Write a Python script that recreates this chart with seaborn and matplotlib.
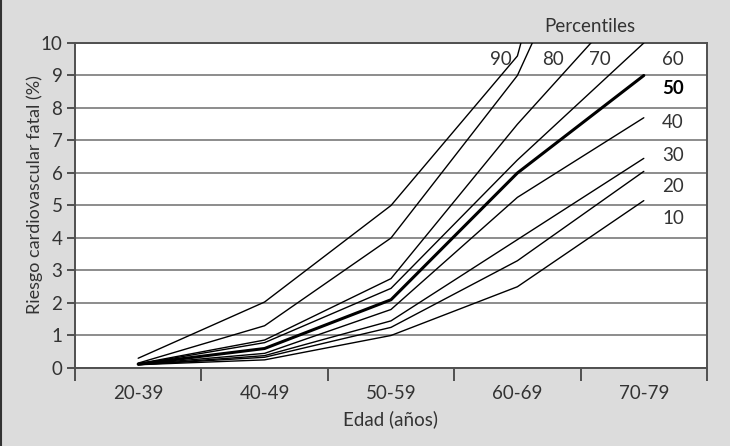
import pandas as pd
import seaborn as sns
import matplotlib.pyplot as plt
from matplotlib.lines import Line2D

# datos
edades = ["20-39", "40-49", "50-59", "60-69", "70-79"]
percentiles = [90, 80, 70, 60, 50, 40, 30, 20, 10]
p90 = [0.30, 2.03, 5.0, 9.6, 24.0]
p80 = [0.15, 1.30, 4.0, 9.0, 17.5]
p70 = [0.13, 0.86, 2.75, 7.5, 11.8]
p60 = [0.12, 0.78, 2.45, 6.4, 10.0]
p50 = [0.12, 0.60, 2.10, 6.0, 9.0]
p40 = [0.11, 0.45, 1.80, 5.25, 7.7]
p30 = [0.10, 0.38, 1.45, 3.95, 6.45]
p20 = [0.10, 0.33, 1.25, 3.30, 6.05]
p10 = [0.10, 0.25, 1.00, 2.50, 5.15]
series = [p90, p80, p70, p60, p50, p40, p30, p20, p10]

filas = []
for p, vals in zip(percentiles, series):
    for i, v in enumerate(vals):
        filas.append({"pos": i, "edad": edades[i], "percentil": p, "riesgo": v})
df = pd.DataFrame(filas)

sns.set_style("white")
plt.rcParams['font.family'] = ['Lato', 'DejaVu Sans']
plt.rcParams['text.color'] = '#333333'
plt.rcParams['axes.labelcolor'] = '#333333'

fondo = '#dcdcdc'
gris_spine = '#505050'
fs = 13.5

fig = plt.figure(figsize=(7.3, 4.46), dpi=100, facecolor=fondo)
ax = fig.add_axes([0.1027, 0.1749, 0.8658, 0.7287])
ax.set_facecolor('white')

grosor = {p: 1.0 for p in percentiles}
grosor[50] = 2.2
sns.lineplot(data=df, x="pos", y="riesgo", hue="percentil", size="percentil",
             palette={p: 'black' for p in percentiles}, sizes=grosor,
             legend=False, sort=False, ax=ax, zorder=3)

ax.set_xlim(-0.5, len(edades) - 0.5)
ax.set_ylim(0, 10)

# rejilla horizontal
ax.set_yticks(range(0, 11))
ax.yaxis.grid(True, color='#8c8c8c', linewidth=1.4)
ax.set_axisbelow(True)
ax.tick_params(axis='y', direction='out', length=6, width=1.4, color=gris_spine,
               labelsize=fs, labelcolor='#333333', pad=3, left=True)

# marcas en los límites de cada grupo, etiquetas en el centro
ax.set_xticks([i - 0.5 for i in range(len(edades) + 1)])
ax.set_xticklabels([])
ax.set_xticks(range(len(edades)), minor=True)
ax.set_xticklabels(edades, minor=True)
ax.tick_params(axis='x', which='major', direction='out', length=9, width=1.4,
               color=gris_spine, bottom=True)
ax.tick_params(axis='x', which='minor', length=0, pad=12, labelsize=fs,
               labelcolor='#333333')

for s in ax.spines.values():
    s.set_color(gris_spine)
    s.set_linewidth(1.4)

ax.set_xlabel("Edad (años)", fontsize=fs, labelpad=6)
ax.set_ylabel("Riesgo cardiovascular fatal (%)", fontsize=13)
ax.yaxis.set_label_coords(-0.05, 0.535)

# etiquetas de percentiles
ax.text(3.57, 10.5, "Percentiles", fontsize=fs, ha='center', va='center',
        clip_on=False)
for p, (x, y) in {90: (2.87, 9.5), 80: (3.28, 9.5), 70: (3.65, 9.5),
                  60: (4.23, 9.5), 50: (4.23, 8.6), 40: (4.23, 7.55),
                  30: (4.23, 6.55), 20: (4.23, 5.57), 10: (4.23, 4.6)}.items():
    ax.text(x, y, str(p), fontsize=fs, ha='center', va='center',
            fontweight='bold' if p == 50 else 'normal',
            color='black' if p == 50 else '#333333', zorder=4)

# borde oscuro a la izquierda
fig.add_artist(Line2D([0.002, 0.002], [0, 1], color='#333333', linewidth=1.5,
                      transform=fig.transFigure))

fig.savefig("out.png", dpi=100, facecolor=fondo)
